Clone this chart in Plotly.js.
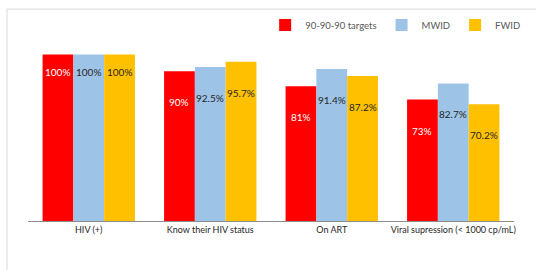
<!DOCTYPE html>
<html><head><meta charset="utf-8">
<script src="https://cdn.plot.ly/plotly-3.0.1.min.js"></script>
<style>html,body{margin:0;padding:0;background:#fff}#c{width:536px;height:270px}</style>
</head><body><div id="c"></div>
<script>
var categories = ["HIV (+)", "Know their HIV status", "On ART", "Viral supression (< 1000 cp/mL)"];
var targets = [100, 90, 81, 73];
var mwid = [100, 92.5, 91.4, 82.7];
var fwid = [100, 95.7, 87.2, 70.2];
var targetLabels = ["100%", "90%", "81%", "73%"];
var mwidLabels = ["100%", "92.5%", "91.4%", "82.7%"];
var fwidLabels = ["100%", "95.7%", "87.2%", "70.2%"];

var font = "Lato, 'Open Sans', sans-serif";
function bar(name, vals, color) {
  return {type: "bar", name: name, x: categories, y: vals, marker: {color: color}, hoverinfo: "none"};
}
var traces = [
  bar("90-90-90 targets", targets, "#FF0000"),
  bar("MWID", mwid, "#9DC3E6"),
  bar("FWID", fwid, "#FFC000")
];
var annotations = [];
var series = [[targets, targetLabels, "#ffffff", -31], [mwid, mwidLabels, "#262626", 0], [fwid, fwidLabels, "#262626", 31]];
series.forEach(function (s) {
  categories.forEach(function (c, i) {
    annotations.push({xref: "x", yref: "y", x: c, y: s[0][i], text: s[1][i], showarrow: false,
      xshift: s[3], yshift: i === 0 ? -17 : -31, yanchor: "middle",
      font: {family: font, size: 10, color: s[2]}});
  });
});
var layout = {
  width: 536, height: 270,
  margin: {l: 28, r: 22, t: 10, b: 49},
  paper_bgcolor: "#ffffff", plot_bgcolor: "#ffffff",
  barmode: "group", bargap: 0.24, bargroupgap: 0,
  showlegend: true,
  legend: {orientation: "h", x: 1.025, xanchor: "right", y: 0.938, yanchor: "middle",
    font: {family: font, size: 9.5, color: "#595959"}, itemwidth: 30, traceorder: "normal",
    bgcolor: "rgba(0,0,0,0)"},
  xaxis: {type: "category", showline: true, linecolor: "#8c8c8c", linewidth: 1, ticks: "",
    tickfont: {family: font, size: 9, color: "#262626"}, showgrid: false, fixedrange: true},
  yaxis: {range: [0, 125.6], visible: false, showgrid: false, zeroline: false, fixedrange: true},
  annotations: annotations,
  shapes: [{type: "rect", xref: "paper", yref: "paper", x0: -0.0432, x1: 1.2, y0: -0.5, y1: 1.014,
    line: {color: "#d9d9d9", width: 1}, fillcolor: "rgba(0,0,0,0)", layer: "below"}]
};
Plotly.newPlot("c", traces, layout, {displayModeBar: false, staticPlot: true});
</script></body></html>
